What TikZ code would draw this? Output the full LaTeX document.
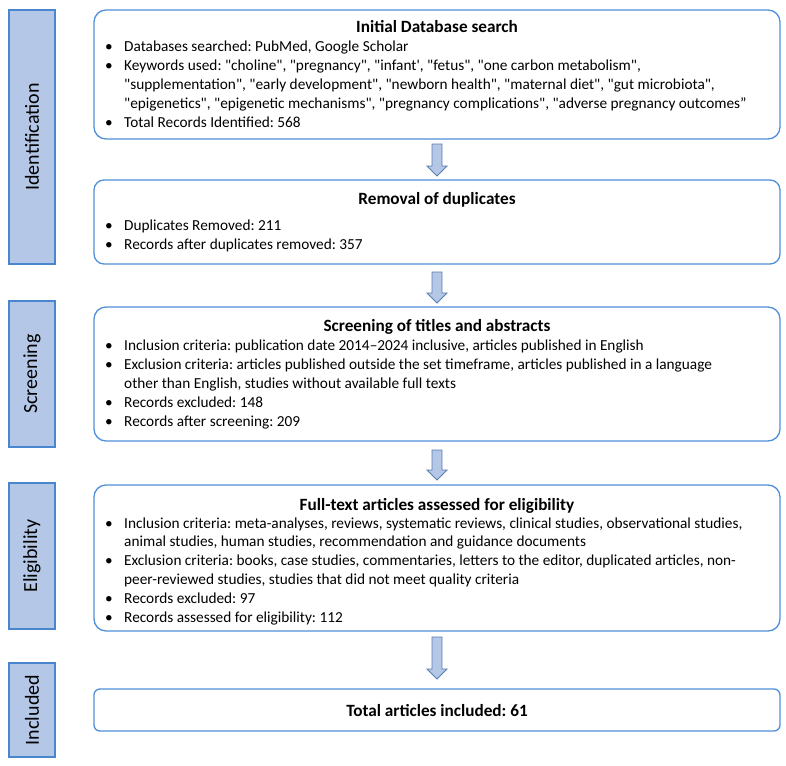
\documentclass[tikz,border=0pt]{standalone}
\usepackage{fontspec}
\setmainfont{Carlito}[Ligatures=TeXOff]
\frenchspacing
\definecolor{boxline}{HTML}{5090D8}
\definecolor{sidefill}{HTML}{B4C7E7}
\definecolor{sideline}{HTML}{4A86D0}
\definecolor{arrline}{HTML}{5A7DB0}
\tikzset{
  mainbox/.style={draw=boxline, line width=1.3pt, fill=white, inner sep=0pt},
  sidebox/.style={draw=sideline, line width=1.1pt, fill=sidefill, inner sep=0pt, minimum width=46pt},
  sidelabel/.style={rotate=90, font=\fontsize{20}{24}\selectfont, inner sep=0pt},
  ttl/.style={font=\fontsize{17.2}{20}\selectfont\bfseries, inner sep=0pt, anchor=base},
  ln/.style={font=\fontsize{15.3}{19}\selectfont, inner sep=0pt, anchor=base west},
  blockarr/.style={draw=arrline, line width=0.8pt, fill=sidefill}
}
\newcommand\bul[1]{\makebox[19pt][l]{•}#1}
\newcommand\downarrowshape[3]{% name, top, bottom
  \coordinate (#1) at (437,#2);
  \path[blockarr] (432,#2) -- (442,#2) -- (442,#3-10) -- (447,#3-10) -- (437,#3) -- (427,#3-10) -- (432,#3-10) -- cycle;
}
\begin{document}
\begin{tikzpicture}[x=1pt,y=-1pt]
\useasboundingbox (0,0) rectangle (786,765);
% side boxes
\node[sidebox, minimum height=254pt] (s1) at (32,137) {};
\node[sidelabel] (s1t) at (s1.center) {Identification};
\node[sidebox, minimum height=146pt] (s2) at (32,374) {};
\node[sidelabel] (s2t) at (s2.center) {Screening};
\node[sidebox, minimum height=146pt] (s3) at (32,556) {};
\node[sidelabel] (s3t) at (s3.center) {Eligibility};
\node[sidebox, minimum height=94pt] (s4) at (32,710) {};
\node[sidelabel] (s4t) at (s4.center) {Included};
% main boxes
\node[mainbox, rounded corners=12pt, minimum width=686pt, minimum height=129pt] (b1) at (437,74.5) {};
\node[mainbox, rounded corners=10pt, minimum width=686pt, minimum height=84pt] (b2) at (437,222) {};
\node[mainbox, rounded corners=12pt, minimum width=686pt, minimum height=134pt] (b3) at (437,374) {};
\node[mainbox, rounded corners=12pt, minimum width=686pt, minimum height=146pt] (b4) at (437,558) {};
\node[mainbox, rounded corners=6pt, minimum width=686pt, minimum height=42pt] (b5) at (437,710) {};
% arrows
\downarrowshape{a1}{144}{176}
\downarrowshape{a2}{272}{303}
\downarrowshape{a3}{450}{480}
\downarrowshape{a4}{637}{679}
% box 1
\node[ttl] (t1) at (437,33) {Initial Database search};
\node[ln] (l11) at (105,52) {\bul{Databases searched: PubMed, Google Scholar}};
\node[ln] (l12) at (105,71) {\bul{Keywords used: "choline", "pregnancy", "infant', "fetus", "one carbon metabolism",}};
\node[ln] (l13) at (124,90) {"supplementation", "early development", "newborn health", "maternal diet", "gut microbiota",};
\node[ln] (l14) at (124,109) {"epigenetics", "epigenetic mechanisms", "pregnancy complications", "adverse pregnancy outcomes”};
\node[ln] (l15) at (105,128) {\bul{Total Records Identified: 568}};
% box 2
\node[ttl] (t2) at (437,204) {Removal of duplicates};
\node[ln] (l21) at (105,230) {\bul{Duplicates Removed: 211}};
\node[ln] (l22) at (105,249) {\bul{Records after duplicates removed: 357}};
% box 3
\node[ttl] (t3) at (437,331) {Screening of titles and abstracts};
\node[ln] (l31) at (105,350) {\bul{Inclusion criteria: publication date 2014–2024 inclusive, articles published in English}};
\node[ln] (l32) at (105,369) {\bul{Exclusion criteria: articles published outside the set timeframe, articles published in a language}};
\node[ln] (l33) at (124,388) {other than English, studies without available full texts};
\node[ln] (l34) at (105,407) {\bul{Records excluded: 148}};
\node[ln] (l35) at (105,426) {\bul{Records after screening: 209}};
% box 4
\node[ttl] (t4) at (437,510) {Full-text articles assessed for eligibility};
\node[ln] (l41) at (105,528) {\bul{Inclusion criteria: meta-analyses, reviews, systematic reviews, clinical studies, observational studies,}};
\node[ln] (l42) at (124,546.8) {animal studies, human studies, recommendation and guidance documents};
\node[ln] (l43) at (105,565.6) {\bul{Exclusion criteria: books, case studies, commentaries, letters to the editor, duplicated articles, non-}};
\node[ln] (l44) at (124,584.4) {peer-reviewed studies, studies that did not meet quality criteria};
\node[ln] (l45) at (105,603.2) {\bul{Records excluded: 97}};
\node[ln] (l46) at (105,622) {\bul{Records assessed for eligibility: 112}};
% box 5
\node[ttl] (t5) at (437,716) {Total articles included: 61};
\end{tikzpicture}
\end{document}
